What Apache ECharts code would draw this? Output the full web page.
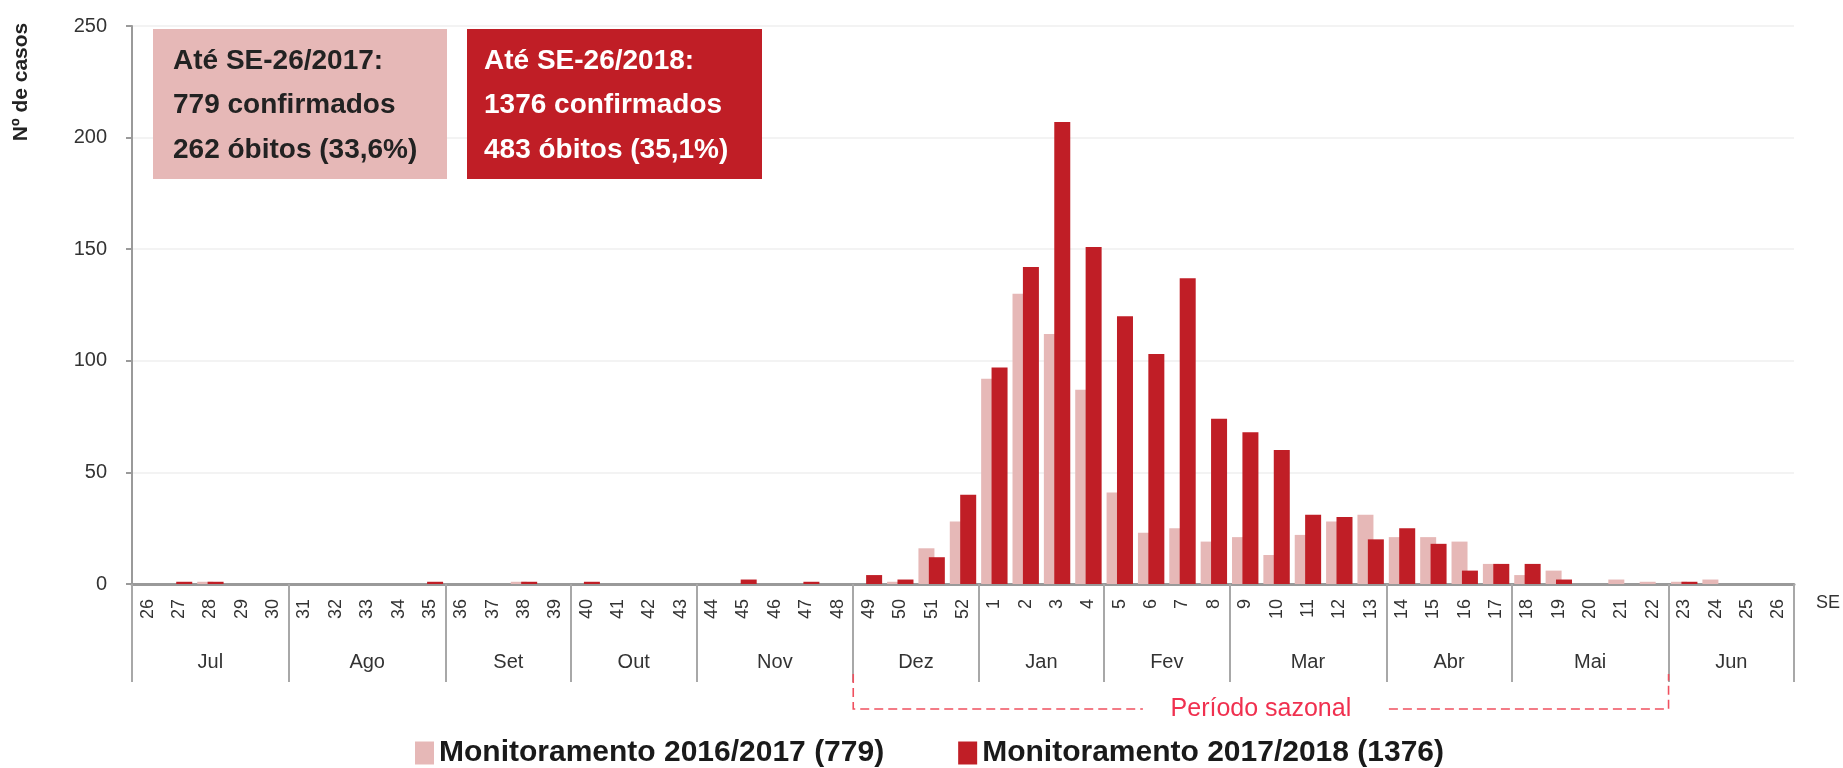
<!DOCTYPE html>
<html><head><meta charset="utf-8">
<script src="https://cdn.jsdelivr.net/npm/echarts@6/dist/echarts.min.js"></script>
<style>html,body{margin:0;padding:0;background:#fff}#c{width:1843px;height:768px}</style>
</head><body><div id="c"></div>
<script>
// Epidemiological weeks (SE 26/year1 .. SE 26/year2)
const weeks = ['26','27','28','29','30','31','32','33','34','35','36','37','38','39','40','41','42','43','44','45','46','47','48','49','50','51','52',
  '1','2','3','4','5','6','7','8','9','10','11','12','13','14','15','16','17','18','19','20','21','22','23','24','25','26'];
const months = ['Jul','Ago','Set','Out','Nov','Dez','Jan','Fev','Mar','Abr','Mai','Jun'];
const monthWeekCounts = [5,5,4,4,5,4,4,4,5,4,5,4];
const seriesNames = ['Monitoramento 2016/2017 (779)','Monitoramento 2017/2018 (1376)'];
const cases20162017 = [0,0,1,0,0, 0,0,0,0,0, 0,0,1,0, 0,0,0,0, 0,0,0,0,0, 0,1,16,28,
  92,130,112,87, 41,23,25,19, 21,13,22,28,31, 21,21,19,9, 4,6,0,2,1, 1,2,0,0];
const cases20172018 = [0,1,1,0,0, 0,0,0,0,1, 0,0,1,0, 1,0,0,0, 0,2,0,1,0, 4,2,12,40,
  97,142,207,151, 120,103,137,74, 68,60,31,30,20, 25,18,6,9, 9,2,0,0,0, 1,0,0,0];
const yMin = 0, yMax = 250, yStep = 50;
const seasonStartIdx = 23;  // SE 49
const seasonEndIdx = 48;    // SE 22
const boxLines2017 = ['Até SE-26/2017:','779 confirmados','262 óbitos (33,6%)'];
const boxLines2018 = ['Até SE-26/2018:','1376 confirmados','483 óbitos (35,1%)'];

const PINK = '#E6B8B7', RED = '#C01E26';
const FONT = "'Liberation Sans', Arial, sans-serif";

// month axis: half-week points (boundaryGap false)
const monthAxisData = [];
const boundaries = new Set(), centers = new Map();
let cum = 0;
boundaries.add(0);
months.forEach((m, i) => { centers.set(2*cum + monthWeekCounts[i], m); cum += monthWeekCounts[i]; boundaries.add(2*cum); });
for (let j = 0; j <= 2*weeks.length; j++) monthAxisData.push(centers.has(j) ? centers.get(j) : '');

const chart = echarts.init(document.getElementById('c'));
chart.setOption({
  animation: false,
  backgroundColor: '#fff',
  grid: { left: 132, right: 46, top: 26, bottom: 184, containLabel: false },
  legend: {
    data: seriesNames, top: 733, left: 410, itemWidth: 19, itemHeight: 23, itemGap: 74,
    icon: 'rect', textStyle: { fontFamily: FONT, fontSize: 30, fontWeight: 'bold', color: '#1a1a1a' }
  },
  xAxis: [{
    type: 'category', data: weeks, position: 'bottom',
    axisLine: { lineStyle: { color: '#9a9a9a', width: 3 } },
    axisTick: { show: false },
    axisLabel: { rotate: 90, interval: 0, margin: 15, fontFamily: FONT, fontSize: 18, color: '#333' },
    name: 'SE', nameLocation: 'end', nameGap: 22,
    nameTextStyle: { fontFamily: FONT, fontSize: 18, color: '#333', verticalAlign: 'top', padding: [10,0,0,0] }
  }, {
    type: 'category', data: monthAxisData, position: 'bottom', boundaryGap: false, offset: 0,
    axisLine: { show: false },
    axisTick: { show: true, length: 98, interval: (idx) => boundaries.has(idx), lineStyle: { color: '#a8a8a8', width: 2 } },
    axisLabel: { interval: (idx) => centers.has(idx), margin: 68, fontFamily: FONT, fontSize: 20, color: '#333' }
  }],
  yAxis: {
    type: 'value', min: yMin, max: yMax, interval: yStep,
    axisLine: { show: true, lineStyle: { color: '#9a9a9a', width: 2 } },
    axisTick: { show: true, length: 6, lineStyle: { color: '#9a9a9a', width: 2 } },
    axisLabel: { margin: 25, fontFamily: FONT, fontSize: 20, color: '#333' },
    splitLine: { lineStyle: { color: '#efefef', width: 1.5 } }
  },
  series: [{
    name: seriesNames[0], type: 'bar', data: cases20162017, barWidth: 16, barGap: '-35%',
    itemStyle: { color: PINK }
  }, {
    name: seriesNames[1], type: 'bar', data: cases20172018, barWidth: 16, barGap: '-35%',
    itemStyle: { color: RED }
  }, {
    type: 'custom', silent: true, clip: false, xAxisIndex: 0, yAxisIndex: 0,
    data: [[seasonStartIdx, seasonEndIdx]],
    renderItem: function (params, api) {
      const half = api.size([1, 0])[0] / 2;
      const x1 = api.coord([api.value(0), 0])[0] - half;
      const x2 = api.coord([api.value(1), 0])[0] + half;
      const y0 = api.coord([0, 0])[1];
      const yTop = y0 + 90, yBot = y0 + 125;
      const mid = (x1 + x2) / 2;
      const ls = { stroke: '#F0505F', lineWidth: 1.6, lineDash: [9, 5], fill: null };
      return { type: 'group', children: [
        { type: 'polyline', shape: { points: [[x1, yTop], [x1, yBot], [mid - 118, yBot]] }, style: ls },
        { type: 'polyline', shape: { points: [[mid + 128, yBot], [x2, yBot], [x2, yTop]] }, style: ls },
        { type: 'text', x: mid, y: yBot, style: { text: 'Período sazonal', fill: '#F0304F', font: '25px ' + FONT, align: 'center', verticalAlign: 'middle' } }
      ]};
    }
  }],
  graphic: [
    { type: 'rect', z: 50, left: 153, top: 29, shape: { width: 294, height: 150 }, style: { fill: PINK } },
    { type: 'text', z: 51, left: 173, top: 39, style: { text: boxLines2017.join('\n'), fill: '#222', font: 'bold 28px ' + FONT, lineHeight: 44.5 } },
    { type: 'rect', z: 50, left: 467, top: 29, shape: { width: 295, height: 150 }, style: { fill: RED } },
    { type: 'text', z: 51, left: 484, top: 39, style: { text: boxLines2018.join('\n'), fill: '#fff', font: 'bold 28px ' + FONT, lineHeight: 44.5 } },
    { type: 'text', z: 51, x: 21, y: 82, rotation: Math.PI / 2, style: { text: 'Nº de casos', fill: '#222', font: 'bold 21px ' + FONT, align: 'center', verticalAlign: 'middle' } }
  ]
});
</script></body></html>
